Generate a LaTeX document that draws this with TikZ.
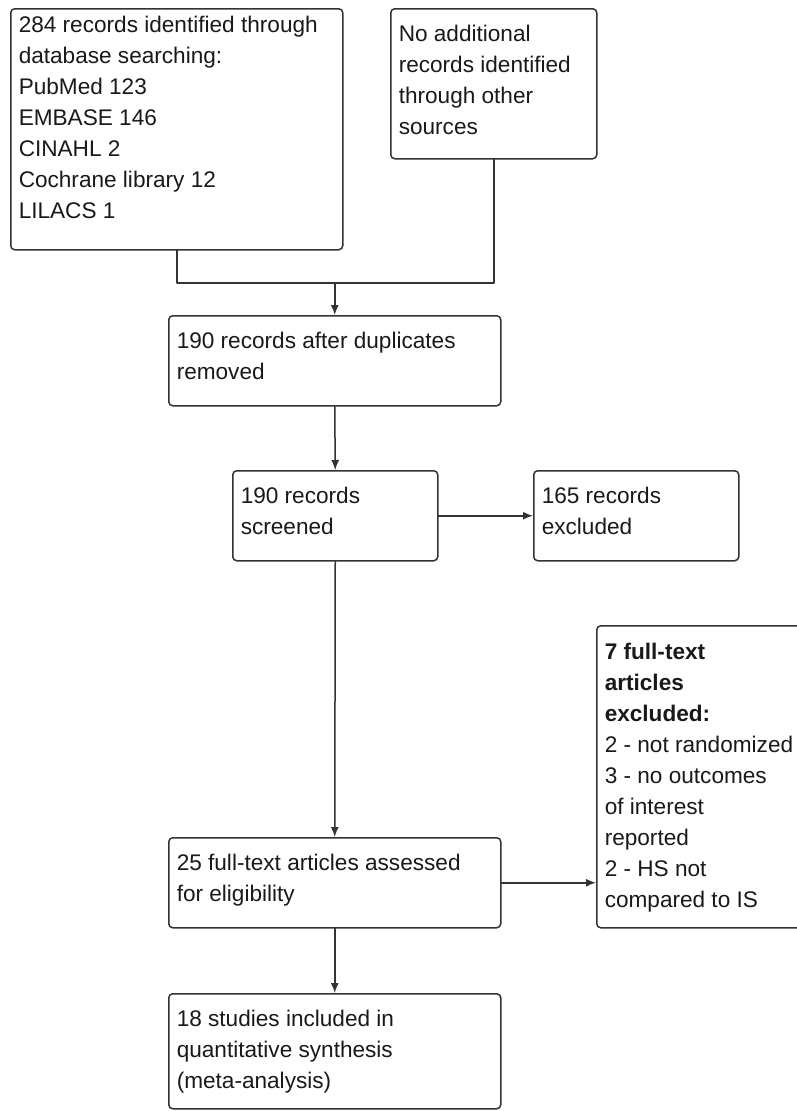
\documentclass[tikz,border=0pt]{standalone}
\usepackage{fontspec}
\setmainfont{Liberation Sans}
\usetikzlibrary{arrows.meta}
\newcommand{\boxtxt}[4][16.5pt]{\parbox[t][#3][t]{#2}{\vspace*{#1}\raggedright #4}}
\begin{document}
\begin{tikzpicture}[line join=round, line cap=round, >={Latex[length=10pt,width=8pt]}, x=1pt, y=-1pt]
	\tikzset{flowbox/.style={draw=black!80, line width=1.5pt, rounded corners=4pt, anchor=north west, inner xsep=8pt, inner ysep=0pt, text=black!90, font=\fontsize{22.6}{31}\selectfont},
		flowline/.style={draw=black!80, line width=1.5pt}}
	\useasboundingbox (0,0) rectangle (797,1111);
	\node[flowbox] (srch) at (10,8) {\boxtxt[7.5pt]{316pt}{241pt}{284 records identified through\\ database searching:\\ PubMed 123\\ EMBASE 146\\ CINAHL 2\\ Cochrane library 12\\ LILACS 1}};
	\node[flowbox] (othr) at (390,8) {\boxtxt{190pt}{150pt}{No additional\\ records identified\\ through other\\ sources}};
	\node[flowbox] (dup) at (168,315) {\boxtxt{316pt}{90pt}{190 records after duplicates\\ removed}};
	\node[flowbox] (scr) at (232,470) {\boxtxt{189pt}{90pt}{190 records\\ screened}};
	\node[flowbox] (exca) at (533,470) {\boxtxt{189pt}{90pt}{165 records\\ excluded}};
	\node[flowbox] (excb) at (596,625) {\boxtxt[17.5pt]{199pt}{302pt}{\textbf{7 full-text}\\ \textbf{articles}\\ \textbf{excluded:}\\ 2 - not randomized\\ 3 - no outcomes\\ of interest\\ reported\\ 2 - HS not\\ compared to IS}};
	\node[flowbox] (fte) at (168,837) {\boxtxt{316pt}{90pt}{25 full-text articles assessed\\ for eligibility}};
	\node[flowbox] (inc) at (168,993) {\boxtxt{316pt}{115pt}{18 studies included in\\ quantitative synthesis\\ (meta-analysis)}};
	\coordinate (mrg) at ([yshift=32pt]dup.north);
	\draw[flowline] (srch.south) |- (mrg) -| (othr.south);
	\draw[flowline,->] (mrg) -- (dup.north);
	\draw[flowline,->] (dup.south) -- (scr.north);
	\draw[flowline,->] (scr.east) -- (exca.west);
	\draw[flowline,->] (scr.south) -- (fte.north);
	\draw[flowline,->] (fte.east) -- (fte.east -| excb.west);
	\draw[flowline,->] (fte.south) -- (inc.north);
\end{tikzpicture}
\end{document}
